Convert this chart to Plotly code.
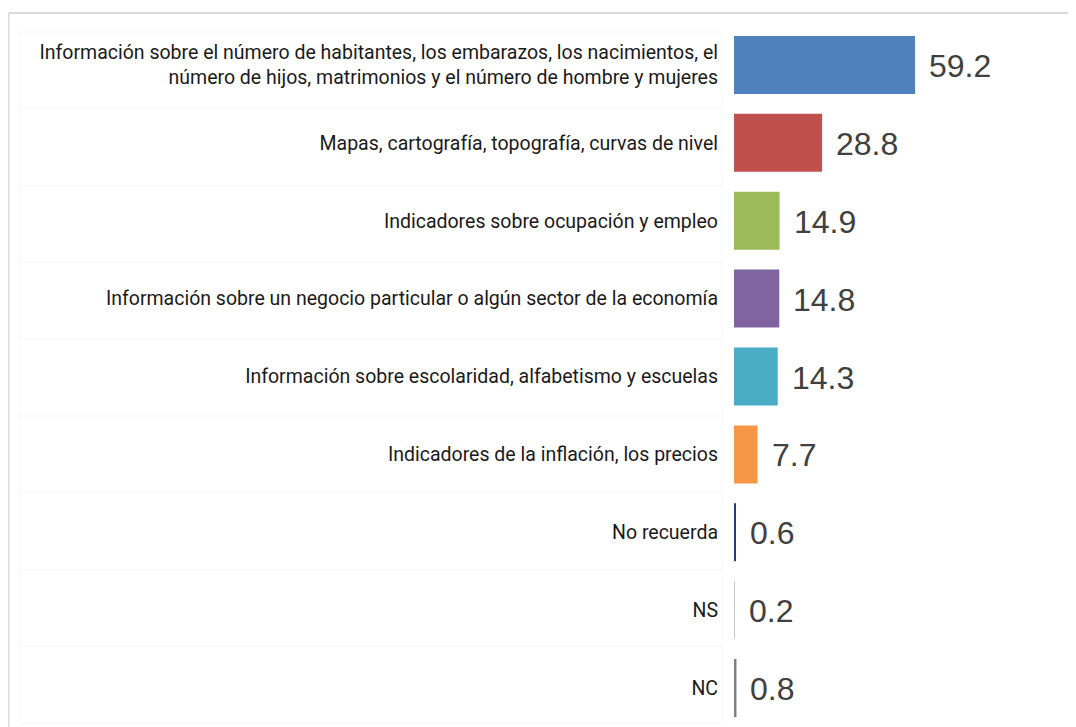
import plotly.graph_objects as go

categorias = [
    "Información sobre el número de habitantes, los embarazos, los nacimientos, el<br>número de hijos, matrimonios y el número de hombre y mujeres",
    "Mapas, cartografía, topografía, curvas de nivel",
    "Indicadores sobre ocupación y empleo",
    "Información sobre un negocio particular o algún sector de la economía",
    "Información sobre escolaridad, alfabetismo y escuelas",
    "Indicadores de la inflación, los precios",
    "No recuerda",
    "NS",
    "NC",
]
valores = [59.2, 28.8, 14.9, 14.8, 14.3, 7.7, 0.6, 0.2, 0.8]
colores = ["#4F81BD", "#C0504D", "#9BBB59", "#8064A2", "#4BACC6",
           "#F79646", "#1F3F7A", "#C8C8C8", "#7F7F7F"]
etiquetas = ["59.2", "28.8", "14.9", "14.8", "14.3", "7.7", "0.6", "0.2", "0.8"]

# page body adds 8px margin, so figure is drawn 8px smaller
W, H = 1068, 719
L, T, B = 726, 18, 0
PW, PH = W - L, H - T - B

fig = go.Figure(go.Bar(
    x=valores, y=categorias, orientation="h",
    marker=dict(color=colores, line=dict(width=0)),
    hoverinfo="x+y",
))

for v, c, t in zip(valores, categorias, etiquetas):
    fig.add_annotation(x=v, y=c, text=t, showarrow=False, xanchor="left",
                       xshift=12, yshift=-1,
                       font=dict(family="Liberation Sans, Arial", size=32, color="#404040"))

def px_x(p):
    return (p - L) / PW

def px_y(p):
    return 1 - (p - T) / PH

# faint table lines behind labels
n = len(categorias)
shapes = []
for i in range(n + 1):
    y = px_y(24 + 76.8 * i)
    shapes.append(dict(type="line", xref="paper", yref="paper",
                       x0=px_x(12), x1=px_x(714), y0=y, y1=y,
                       line=dict(color="#f6f6f6", width=1)))
for xx in [12, 714]:
    shapes.append(dict(type="line", xref="paper", yref="paper",
                       x0=px_x(xx), x1=px_x(xx), y0=px_y(24), y1=px_y(715),
                       line=dict(color="#f7f7f7", width=1)))
# outer border (top and left)
shapes.append(dict(type="line", xref="paper", yref="paper",
                   x0=px_x(0.5), x1=1, y0=px_y(5), y1=px_y(5),
                   line=dict(color="#d9d9d9", width=2)))
shapes.append(dict(type="line", xref="paper", yref="paper",
                   x0=px_x(0.5), x1=px_x(0.5), y0=px_y(H), y1=px_y(5),
                   line=dict(color="#d9d9d9", width=2)))

fig.update_layout(
    width=W, height=H,
    margin=dict(l=L, r=0, t=T, b=B, autoexpand=False),
    paper_bgcolor="white", plot_bgcolor="white",
    bargap=0.255, showlegend=False,
    shapes=shapes,
    xaxis=dict(range=[0, 111.8], visible=False, fixedrange=True),
    yaxis=dict(autorange="reversed", showgrid=False, zeroline=False,
               showline=False, ticks="", ticklabelstandoff=15, automargin=False,
               tickfont=dict(family="Roboto", size=19.5, color="#1a1a1a")),
)

fig.write_html("out.html")
